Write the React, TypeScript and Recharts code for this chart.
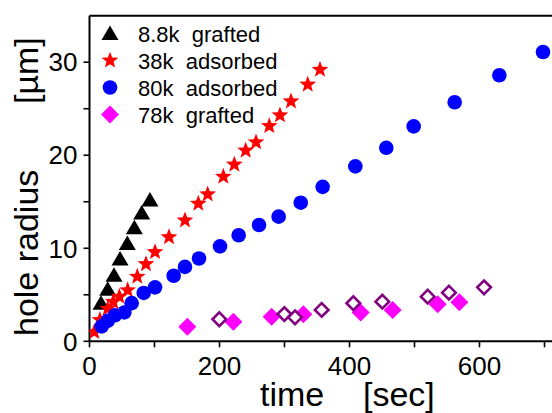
import { Label, Legend, Scatter, ScatterChart, XAxis, YAxis } from "recharts";

// hole radius [µm] vs time [sec]
const tGrafted88 = [17.7, 28, 37.7, 47, 58.2, 69, 80.3, 93];
const rGrafted88 = [4.1, 5.6, 7.1, 8.85, 10.5, 12.2, 13.8, 15.2];

const tAdsorbed38 = [
  7.4, 16, 28, 36.6, 45.9, 58.7, 73.5, 86.9, 100.8, 122.3, 146.9, 167.4,
  181.8, 205.9, 222.8, 240.3, 256.2, 276.6, 293, 310, 335.7, 354.6,
];
const rAdsorbed38 = [
  1.0, 2.3, 3.5, 4.25, 4.8, 5.5, 6.95, 8.3, 9.6, 11.2, 13.0, 14.8, 15.8, 17.7,
  19.0, 20.5, 21.4, 23.15, 24.3, 25.8, 27.6, 29.2,
];

const tAdsorbed80 = [
  18.7, 28, 39.2, 53.6, 64.9, 83.4, 100.8, 129.5, 146.9, 168.5, 200.8, 229.5,
  260.8, 291, 325, 358.7, 409, 456.6, 498.7, 561.8, 630.5, 697.7,
];
const rAdsorbed80 = [
  1.6, 2.2, 2.8, 3.1, 4.1, 5.2, 5.8, 7.05, 8.0, 8.9, 10.2, 11.4, 12.5, 13.4,
  14.9, 16.6, 18.8, 20.8, 23.1, 25.7, 28.6, 31.1,
];

const tGrafted78 = [150.5, 221.3, 280.2, 329, 417.2, 466.4, 535.7, 569];
const rGrafted78 = [1.57, 2.1, 2.65, 2.9, 3.1, 3.37, 3.97, 4.2];

// open diamonds, no legend entry in the original
const tOpen = [199.7, 299.7, 316.2, 357.2, 405.9, 450.5, 520.3, 553, 607];
const rOpen = [2.37, 2.93, 2.58, 3.37, 4.09, 4.26, 4.8, 5.23, 5.8];

const xTicks = [0, 100, 200, 300, 400, 500, 600, 700];
const yTicks = [0, 5, 10, 15, 20, 25, 30];

const legendNames = ["8.8k  grafted", "38k  adsorbed", "80k  adsorbed", "78k  grafted"];

const pts = (t: number[], r: number[]) => t.map((x, i) => ({ x, y: r[i] }));

const FONT = "'Liberation Sans', Arial, Helvetica, sans-serif";

// marker shapes (cx, cy come from the chart scales)
const triangle = (cx: number, cy: number, fill: string) => (
  <path
    d={`M${cx},${cy - 8}L${cx + 8.5},${cy + 6.5}L${cx - 8.5},${cy + 6.5}Z`}
    fill={fill}
  />
);

const star = (cx: number, cy: number, fill: string) => {
  let d = "";
  for (let i = 0; i < 10; i++) {
    const r = i % 2 === 0 ? 8.8 : 3.7;
    const a = -Math.PI / 2 + (i * Math.PI) / 5;
    d += `${i === 0 ? "M" : "L"}${cx + r * Math.cos(a)},${cy + r * Math.sin(a)}`;
  }
  return <path d={d + "Z"} fill={fill} />;
};

const circle = (cx: number, cy: number, fill: string) => (
  <circle cx={cx} cy={cy} r={7.3} fill={fill} />
);

const diamond = (cx: number, cy: number, fill: string) => (
  <path
    d={`M${cx},${cy - 9}L${cx + 9},${cy}L${cx},${cy + 9}L${cx - 9},${cy}Z`}
    fill={fill}
  />
);

const openDiamond = (cx: number, cy: number, color: string) => (
  <path
    d={`M${cx},${cy - 6.8}L${cx + 6.8},${cy}L${cx},${cy + 6.8}L${cx - 6.8},${cy}Z`}
    fill="#fff"
    stroke={color}
    strokeWidth={2.6}
  />
);

const shapes: Record<string, (cx: number, cy: number, c: string) => any> = {
  "8.8k  grafted": triangle,
  "38k  adsorbed": star,
  "80k  adsorbed": circle,
  "78k  grafted": diamond,
};

function LegendBox({ payload }: any) {
  const items = legendNames
    .map((n) => (payload || []).find((p: any) => p.value === n))
    .filter(Boolean);
  return (
    <div style={{ fontFamily: FONT, fontSize: 22, color: "#000" }}>
      {items.map((p: any) => (
        <div
          key={p.value}
          style={{ display: "flex", alignItems: "center", height: 27 }}
        >
          <svg width={28} height={27}>
            {shapes[p.value](14, 13.5, p.color)}
          </svg>
          <span
            style={{
              marginLeft: 14,
              whiteSpace: "pre",
              position: "relative",
              top: 2,
            }}
          >
            {p.value}
          </span>
        </div>
      ))}
    </div>
  );
}

const xTitle = (props: any) => {
  const { viewBox } = props;
  const y = viewBox.y + 64.5;
  return (
    <g fontFamily={FONT} fontSize={34} fill="#000">
      <text x={260} y={y}>
        time
      </text>
      <text x={363} y={y}>
        [sec]
      </text>
    </g>
  );
};

const yTitle = () => (
  <g fontFamily={FONT} fontSize={34} fill="#000">
    <text x={38} y={336} transform="rotate(-90 38 336)">
      hole radius
    </text>
    <text x={38} y={104} transform="rotate(-90 38 104)">
      [µm]
    </text>
  </g>
);

const tickStyle = { fill: "#000", fontSize: 26, fontFamily: FONT };
const lineStyle = { stroke: "#000", strokeWidth: 2 };
const tickLineStyle = { stroke: "#000", strokeWidth: 1.6 };

export default function App() {
  return (
    <div
      style={{
        position: "fixed",
        left: 0,
        top: 0,
        width: 552,
        height: 413,
        overflow: "hidden",
        background: "#fff",
      }}
    >
      <ScatterChart
        width={570}
        height={413}
        margin={{ top: 15.7, right: 12.5, bottom: 0, left: 0 }}
      >
        <XAxis
          xAxisId="b"
          type="number"
          dataKey="x"
          domain={[0, 720]}
          ticks={xTicks}
          allowDataOverflow
          height={71.7}
          tickSize={6}
          tickMargin={9}
          tick={tickStyle}
          axisLine={lineStyle}
          tickLine={tickLineStyle}
          tickFormatter={(v: number) => (v % 200 === 0 ? String(v) : "")}
          interval={0}
        >
          <Label content={xTitle} />
        </XAxis>
        <XAxis
          xAxisId="t"
          orientation="top"
          mirror
          type="number"
          dataKey="x"
          domain={[0, 720]}
          ticks={xTicks}
          allowDataOverflow
          height={30}
          tickSize={7}
          tick={false}
          axisLine={lineStyle}
          tickLine={tickLineStyle}
          interval={0}
        />
        <YAxis
          yAxisId="l"
          type="number"
          dataKey="y"
          domain={[0, 35]}
          ticks={yTicks}
          allowDataOverflow
          width={89.5}
          tickSize={6}
          tickMargin={6}
          tick={tickStyle}
          axisLine={lineStyle}
          tickLine={tickLineStyle}
          tickFormatter={(v: number) => (v % 10 === 0 ? String(v) : "")}
          interval={0}
        >
          <Label content={yTitle} />
        </YAxis>
        <YAxis
          yAxisId="r"
          orientation="right"
          mirror
          type="number"
          dataKey="y"
          domain={[0, 35]}
          ticks={yTicks}
          allowDataOverflow
          width={40}
          tickSize={7}
          tick={false}
          axisLine={lineStyle}
          tickLine={tickLineStyle}
          interval={0}
        />
        <Legend
          layout="vertical"
          align="center"
          verticalAlign="middle"
          content={<LegendBox />}
          wrapperStyle={{ left: 96, top: 19.5, width: 200, height: 110 }}
        />
        <Scatter
          name="8.8k  grafted"
          xAxisId="b"
          yAxisId="l"
          data={pts(tGrafted88, rGrafted88)}
          fill="#000000"
          shape={(p: any) => triangle(p.cx, p.cy, "#000000")}
          isAnimationActive={false}
        />
        <Scatter
          name="38k  adsorbed"
          xAxisId="b"
          yAxisId="l"
          data={pts(tAdsorbed38, rAdsorbed38)}
          fill="#ff0000"
          shape={(p: any) => star(p.cx, p.cy, "#ff0000")}
          isAnimationActive={false}
        />
        <Scatter
          name="80k  adsorbed"
          xAxisId="b"
          yAxisId="l"
          data={pts(tAdsorbed80, rAdsorbed80)}
          fill="#0000ff"
          shape={(p: any) => circle(p.cx, p.cy, "#0000ff")}
          isAnimationActive={false}
        />
        <Scatter
          name="78k  grafted"
          xAxisId="b"
          yAxisId="l"
          data={pts(tGrafted78, rGrafted78)}
          fill="#ff00ff"
          shape={(p: any) => diamond(p.cx, p.cy, "#ff00ff")}
          isAnimationActive={false}
        />
        <Scatter
          name="open"
          legendType="none"
          xAxisId="b"
          yAxisId="l"
          data={pts(tOpen, rOpen)}
          fill="#800080"
          shape={(p: any) => openDiamond(p.cx, p.cy, "#800080")}
          isAnimationActive={false}
        />
      </ScatterChart>
    </div>
  );
}
